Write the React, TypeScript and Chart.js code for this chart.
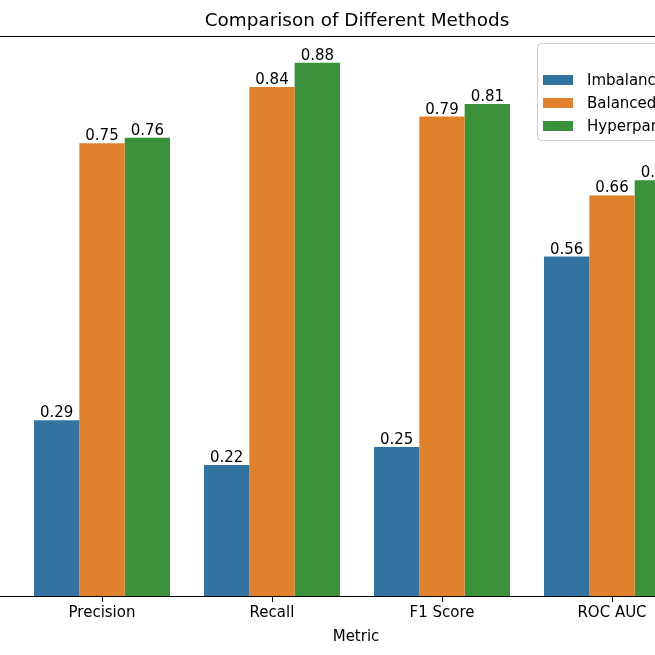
import React, { useEffect, useRef } from 'react';
import { Chart, registerables, type Plugin } from 'chart.js';

Chart.register(...registerables);

const CATEGORIES = ['Precision', 'Recall', 'F1 Score', 'ROC AUC'];
const METHODS = ['Imbalanced', 'Balanced', 'Hyperparameter Tuned'];
const IMBALANCED = [0.29, 0.216, 0.246, 0.56];
const BALANCED = [0.747, 0.84, 0.791, 0.661];
const TUNED = [0.756, 0.88, 0.812, 0.686];
const COLORS = ['#3274a1', '#e1812c', '#3a923a'];

const FONT = 'DejaVu Sans, sans-serif';

// titres, libellés de valeur, cadre haut et légende
const decorPlugin: Plugin<'bar'> = {
  id: 'decor',
  afterDatasetsDraw(chart) {
    const { ctx, chartArea } = chart;
    ctx.save();

    // cadre haut
    ctx.strokeStyle = '#000';
    ctx.lineWidth = 1;
    ctx.beginPath();
    ctx.moveTo(0, chartArea.top + 0.5);
    ctx.lineTo(chart.width, chartArea.top + 0.5);
    ctx.stroke();

    // valeurs au-dessus des barres
    ctx.fillStyle = '#000';
    ctx.font = `15px ${FONT}`;
    ctx.textAlign = 'center';
    ctx.textBaseline = 'alphabetic';
    chart.data.datasets.forEach((ds, di) => {
      const meta = chart.getDatasetMeta(di);
      meta.data.forEach((bar: any, i) => {
        const v = (ds.data[i] as any).y as number;
        ctx.fillText(v.toFixed(2), bar.x, bar.y - 3);
      });
    });

    // titre
    ctx.font = `18.4px ${FONT}`;
    ctx.fillText('Comparison of Different Methods', 357, 26);

    // titre de l'axe x
    ctx.font = `15px ${FONT}`;
    ctx.fillText('Metric', 356, 641);

    // légende
    ctx.fillStyle = 'rgba(255,255,255,0.8)';
    ctx.strokeStyle = '#cccccc';
    ctx.beginPath();
    ctx.roundRect(537.5, 43.5, 190, 97, 4);
    ctx.fill();
    ctx.stroke();
    const rows = [80, 103, 126];
    ctx.textAlign = 'left';
    ctx.textBaseline = 'middle';
    METHODS.forEach((m, i) => {
      ctx.fillStyle = COLORS[i];
      ctx.fillRect(543, rows[i] - 5, 30, 10);
      ctx.fillStyle = '#000';
      ctx.fillText(m, 587, rows[i] + 1);
    });

    ctx.restore();
  },
};

const App: React.FC = () => {
  const canvasRef = useRef<HTMLCanvasElement>(null);

  useEffect(() => {
    document.body.style.margin = '0';
    if (!canvasRef.current) return;

    const series = [IMBALANCED, BALANCED, TUNED];
    const chart = new Chart(canvasRef.current, {
      type: 'bar',
      data: {
        datasets: series.map((vals, si) => ({
          label: METHODS[si],
          data: vals.map((y, i) => ({ x: i, y })),
          backgroundColor: COLORS[si],
          borderWidth: 0,
          categoryPercentage: 0.8,
          barPercentage: 1,
        })),
      },
      options: {
        responsive: false,
        animation: false,
        events: [],
        layout: { padding: { top: 36, left: 0, right: 0, bottom: 0 } },
        plugins: {
          legend: { display: false },
          tooltip: { enabled: false },
          title: { display: false },
        },
        scales: {
          x: {
            type: 'linear',
            min: -0.6,
            max: -0.6 + 655 / 170,
            offset: false,
            afterBuildTicks: (axis) => {
              axis.ticks = CATEGORIES.map((_, i) => ({ value: i }));
            },
            afterFit: (scale) => {
              scale.height = 59;
            },
            grid: {
              display: true,
              drawOnChartArea: false,
              drawTicks: true,
              tickLength: 6,
              color: '#000',
              offset: false,
            },
            border: { display: true, color: '#000', width: 1 },
            ticks: {
              autoSkip: false,
              maxRotation: 0,
              padding: 2,
              color: '#000',
              font: { size: 15, family: FONT },
              callback: (value) => CATEGORIES[value as number] ?? '',
            },
          },
          y: {
            display: false,
            min: 0,
            max: 0.924,
          },
        },
      },
      plugins: [decorPlugin],
    });

    return () => {
      chart.destroy();
    };
  }, []);

  return (
    <div style={{ width: 655, height: 655, overflow: 'hidden', background: '#fff' }}>
      <canvas ref={canvasRef} width={655} height={655} style={{ display: 'block' }} />
    </div>
  );
};

export default App;
